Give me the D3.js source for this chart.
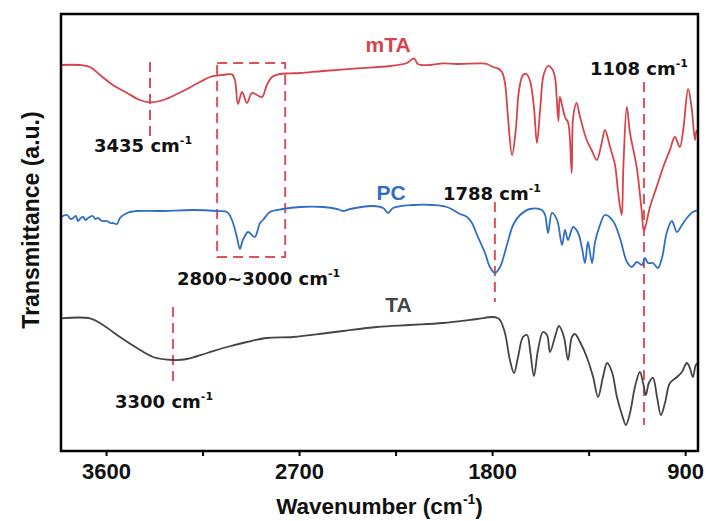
<!DOCTYPE html>
<html>
<head>
<meta charset="utf-8">
<script src="https://cdn.jsdelivr.net/npm/d3@7"></script>
<style>
  body { margin: 0; background: #fff; }
  text { font-family: "Liberation Sans", Arial, sans-serif; font-weight: bold; }
</style>
</head>
<body>
<div id="result"></div>
<script>
// FTIR spectra, wavenumber (cm-1) vs transmittance (a.u., curves stacked)
var mTA = [[3810,1.93],[3721,1.93],[3675,1.92],[3628,1.88],[3568,1.83],[3502,1.79],[3442,1.755],[3395,1.743],[3348,1.75],[3288,1.775],[3222,1.81],[3162,1.845],[3115,1.87],[3055,1.88],[3013,1.883],[2999,1.855],[2985,1.735],[2966,1.795],[2943,1.74],[2920,1.79],[2896,1.78],[2873,1.77],[2850,1.83],[2826,1.87],[2789,1.885],[2742,1.888],[2696,1.89],[2588,1.90],[2430,1.913],[2276,1.925],[2197,1.94],[2164,1.963],[2146,1.935],[2090,1.93],[2029,1.938],[1964,1.935],[1857,1.938],[1824,1.935],[1796,1.92],[1773,1.913],[1754,1.895],[1740,1.84],[1726,1.67],[1707,1.48],[1690,1.6],[1675,1.80],[1656,1.88],[1640,1.885],[1623,1.85],[1605,1.72],[1591,1.54],[1575,1.72],[1560,1.88],[1539,1.925],[1520,1.91],[1507,1.87],[1499,1.77],[1491,1.65],[1484,1.77],[1472,1.72],[1460,1.67],[1445,1.64],[1429,1.39],[1422,1.67],[1406,1.74],[1390,1.67],[1359,1.555],[1336,1.505],[1312,1.455],[1289,1.54],[1274,1.605],[1250,1.52],[1227,1.43],[1212,1.29],[1196,1.18],[1188,1.42],[1172,1.72],[1157,1.59],[1126,1.42],[1103,1.205],[1092,1.10],[1064,1.22],[1033,1.32],[1002,1.42],[971,1.505],[948,1.57],[925,1.52],[909,1.605],[886,1.81],[870,1.72],[854,1.555],[847,1.6],[840,1.605]];

var PC = [[3810,1.17],[3782,1.18],[3765,1.16],[3754,1.165],[3740,1.175],[3731,1.15],[3718,1.165],[3707,1.17],[3695,1.155],[3684,1.165],[3661,1.175],[3650,1.16],[3638,1.165],[3619,1.15],[3596,1.15],[3580,1.14],[3568,1.14],[3549,1.135],[3535,1.165],[3502,1.19],[3456,1.20],[3348,1.20],[3194,1.205],[3083,1.20],[3036,1.195],[3013,1.155],[2990,1.07],[2976,1.01],[2962,1.055],[2938,1.095],[2920,1.08],[2906,1.07],[2882,1.14],[2868,1.155],[2836,1.195],[2775,1.21],[2696,1.22],[2588,1.22],[2523,1.21],[2495,1.2],[2462,1.21],[2355,1.225],[2308,1.215],[2285,1.19],[2262,1.215],[2169,1.23],[2076,1.23],[2011,1.22],[1950,1.185],[1917,1.17],[1894,1.14],[1866,1.07],[1833,0.99],[1810,0.92],[1787,0.89],[1763,0.92],[1731,1.03],[1702,1.13],[1670,1.18],[1623,1.21],[1568,1.205],[1553,1.18],[1539,1.09],[1521,1.19],[1497,1.155],[1474,1.03],[1460,1.105],[1446,1.055],[1422,1.12],[1399,1.09],[1381,1.015],[1367,0.94],[1353,1.045],[1334,0.94],[1320,1.045],[1297,1.13],[1274,1.18],[1236,1.15],[1204,1.065],[1171,0.945],[1148,0.92],[1125,0.945],[1101,0.93],[1087,0.965],[1073,0.94],[1050,0.94],[1027,0.915],[1008,0.965],[985,1.095],[962,1.15],[938,1.095],[915,1.13],[892,1.165],[864,1.195],[840,1.205]];

var TA = [[3810,0.663],[3675,0.663],[3614,0.63],[3535,0.57],[3456,0.515],[3381,0.47],[3288,0.455],[3222,0.46],[3129,0.49],[3036,0.52],[2943,0.545],[2850,0.565],[2728,0.57],[2570,0.59],[2495,0.60],[2337,0.62],[2183,0.63],[2029,0.64],[1871,0.66],[1796,0.67],[1775,0.665],[1763,0.655],[1740,0.59],[1717,0.455],[1698,0.39],[1679,0.47],[1656,0.57],[1637,0.58],[1623,0.505],[1605,0.375],[1586,0.505],[1563,0.595],[1544,0.58],[1530,0.495],[1507,0.57],[1488,0.625],[1465,0.57],[1446,0.455],[1428,0.57],[1414,0.585],[1390,0.545],[1357,0.465],[1329,0.37],[1306,0.27],[1283,0.37],[1264,0.44],[1241,0.395],[1218,0.27],[1194,0.18],[1176,0.13],[1157,0.19],[1134,0.32],[1111,0.395],[1096,0.34],[1083,0.28],[1069,0.34],[1050,0.365],[1031,0.27],[1013,0.18],[994,0.24],[971,0.34],[938,0.37],[915,0.395],[892,0.44],[878,0.415],[864,0.37],[850,0.43],[840,0.44]];

var series = [
  {name: 'mTA', values: mTA, color: '#d8434b', at: [2285, 1.995]},
  {name: 'PC', values: PC, color: '#2e6fc4', at: [2271, 1.255]},
  {name: 'TA', values: TA, color: '#454545', at: [2237, 0.695]}
];

// marker lines: [wavenumber, top, bottom]
var markers = [[3395, 1.945, 1.57], [1092, 1.845, 0.13], [1787, 1.245, 0.745], [3288, 0.72, 0.33]];
// C-H stretch box: [wn left, wn right, top, bottom]
var chBox = [3082, 2765, 1.94, 0.97];

var notes = [
  {text: '3435 cm', at: [3656, 1.495]},
  {text: '1108 cm', at: [1344, 1.88]},
  {text: '1788 cm', at: [2029, 1.255]},
  {text: '2800~3000 cm', at: [3269, 0.83]},
  {text: '3300 cm', at: [3558, 0.215]}
];

var majorTicks = [3600, 2700, 1800, 900];
var minorTicks = [3150, 2250, 1350];

var width = 708, height = 521;
var margin = {top: 14, right: 10, bottom: 70, left: 61};

var x = d3.scaleLinear().domain([3810, 840]).range([margin.left, width - margin.right]);
var y = d3.scaleLinear().domain([0, 2.185]).range([height - margin.bottom, margin.top]);

var svg = d3.select('#result').append('svg')
  .attr('width', width)
  .attr('height', height);

svg.append('clipPath').attr('id', 'plot-clip')
  .append('rect')
  .attr('x', margin.left).attr('y', margin.top)
  .attr('width', x.range()[1] - margin.left)
  .attr('height', y.range()[0] - margin.top);

var dashColor = '#d9545a';

svg.append('g').selectAll('line')
  .data(markers)
  .enter().append('line')
  .attr('x1', function(d) { return x(d[0]); })
  .attr('x2', function(d) { return x(d[0]); })
  .attr('y1', function(d) { return y(d[1]); })
  .attr('y2', function(d) { return y(d[2]); })
  .attr('stroke', dashColor)
  .attr('stroke-width', 2)
  .attr('stroke-dasharray', '10,6');

svg.append('rect')
  .attr('x', x(chBox[0]))
  .attr('y', y(chBox[2]))
  .attr('width', x(chBox[1]) - x(chBox[0]))
  .attr('height', y(chBox[3]) - y(chBox[2]))
  .attr('fill', 'none')
  .attr('stroke', dashColor)
  .attr('stroke-width', 2)
  .attr('stroke-dasharray', '10,6');

var line = d3.line()
  .x(function(d) { return x(d[0]); })
  .y(function(d) { return y(d[1]); })
  .curve(d3.curveCatmullRom.alpha(0.5));

svg.append('g').attr('clip-path', 'url(#plot-clip)')
  .selectAll('path')
  .data(series)
  .enter().append('path')
  .attr('d', function(d) { return line(d.values); })
  .attr('fill', 'none')
  .attr('stroke', function(d) { return d.color; })
  .attr('stroke-width', 1.8)
  .attr('stroke-linejoin', 'round');

svg.append('g').selectAll('text')
  .data(series)
  .enter().append('text')
  .attr('x', function(d) { return x(d.at[0]); })
  .attr('y', function(d) { return y(d.at[1]); })
  .attr('text-anchor', 'middle')
  .attr('font-size', 21)
  .attr('fill', function(d) { return d.color; })
  .text(function(d) { return d.name; });

var noteText = svg.append('g').selectAll('text')
  .data(notes)
  .enter().append('text')
  .attr('x', function(d) { return x(d.at[0]); })
  .attr('y', function(d) { return y(d.at[1]); })
  .attr('font-size', 18)
  .attr('fill', '#111')
  .style('font-family', '"DejaVu Sans", sans-serif');
noteText.append('tspan').text(function(d) { return d.text; });
noteText.append('tspan').attr('dy', -8).attr('font-size', 11).text('-1');

// frame
svg.append('rect')
  .attr('x', margin.left)
  .attr('y', margin.top)
  .attr('width', x.range()[1] - margin.left)
  .attr('height', y.range()[0] - margin.top)
  .attr('fill', 'none')
  .attr('stroke', '#000')
  .attr('stroke-width', 2.5);

var axisY = y.range()[0];
var xAxis = svg.append('g')
  .attr('transform', 'translate(0,' + axisY + ')')
  .call(d3.axisBottom(x).tickValues(majorTicks).tickSize(5).tickPadding(7).tickFormat(d3.format('d')));
xAxis.select('.domain').remove();
xAxis.selectAll('line').attr('stroke-width', 2);
xAxis.selectAll('text')
  .attr('font-size', 22)
  .attr('fill', '#111')
  .style('font-family', '"Liberation Sans", Arial, sans-serif')
  .style('font-weight', 'bold');

var minorAxis = svg.append('g')
  .attr('transform', 'translate(0,' + axisY + ')')
  .call(d3.axisBottom(x).tickValues(minorTicks).tickSize(5).tickFormat(''));
minorAxis.select('.domain').remove();
minorAxis.selectAll('line').attr('stroke-width', 2);

var xTitle = svg.append('text')
  .attr('x', (margin.left + x.range()[1]) / 2)
  .attr('y', 514)
  .attr('text-anchor', 'middle')
  .attr('font-size', 22.5)
  .attr('fill', '#111');
xTitle.append('tspan').text('Wavenumber (cm');
xTitle.append('tspan').attr('dy', -10).attr('font-size', 14).text('-1');
xTitle.append('tspan').attr('dy', 10).text(')');

svg.append('text')
  .attr('text-anchor', 'middle')
  .attr('font-size', 23)
  .attr('fill', '#111')
  .attr('transform', 'translate(39,220)rotate(-90)')
  .text('Transmittance (a.u.)');
</script>
</body>
</html>
